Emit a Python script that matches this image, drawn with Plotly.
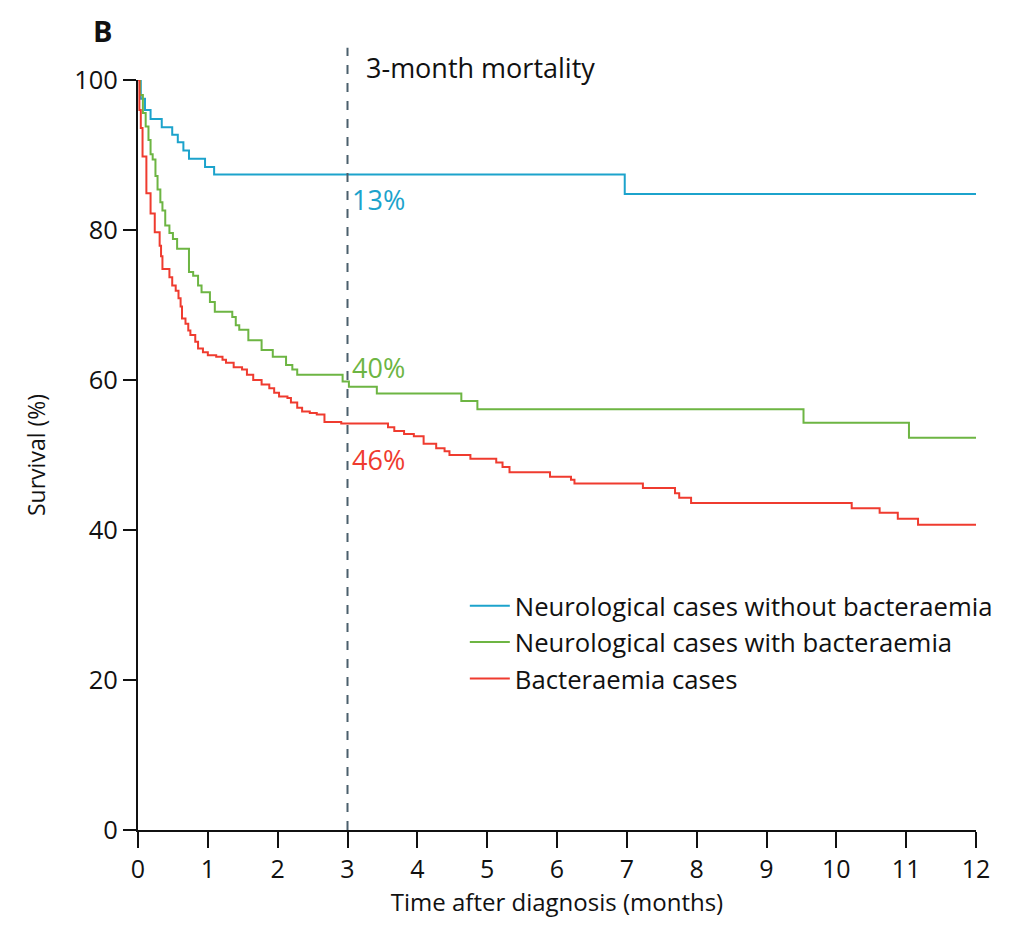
import plotly.graph_objects as go

# Kaplan-Meier survival data (time in months, survival in %)
blue_t = [0, 0.04, 0.10, 0.18, 0.34, 0.49, 0.57, 0.65, 0.73, 0.96, 1.09, 6.97, 12]
blue_s = [100, 97.5, 96.0, 94.8, 93.7, 92.7, 91.7, 90.6, 89.5, 88.4, 87.4, 84.8, 84.8]

green_t = [0, 0.03, 0.07, 0.11, 0.15, 0.18, 0.21, 0.25, 0.28, 0.32, 0.35, 0.39, 0.45, 0.50,
           0.56, 0.73, 0.79, 0.86, 0.91, 1.03, 1.10, 1.35, 1.40, 1.45, 1.58, 1.77, 1.93,
           2.12, 2.21, 2.28, 2.93, 3.02, 3.42, 4.63, 4.86, 9.53, 11.04, 12]
green_s = [100, 98.0, 95.6, 93.8, 92.0, 90.1, 89.4, 87.2, 85.4, 83.7, 82.6, 80.6, 79.6, 78.8,
           77.5, 74.4, 73.9, 72.6, 71.7, 70.4, 69.1, 68.4, 67.3, 66.7, 65.3, 64.0, 63.1,
           62.0, 61.4, 60.7, 59.8, 59.1, 58.2, 57.2, 56.1, 54.3, 52.3, 52.3]

red_t = [0, 0.02, 0.04, 0.065, 0.12, 0.18, 0.24, 0.31, 0.33, 0.35, 0.45, 0.49, 0.54, 0.58,
         0.61, 0.63, 0.68, 0.72, 0.75, 0.82, 0.86, 0.93, 1.00, 1.12, 1.21, 1.26, 1.37, 1.49,
         1.56, 1.65, 1.77, 1.88, 1.95, 2.02, 2.14, 2.19, 2.28, 2.35, 2.46, 2.56, 2.67, 2.91,
         3.58, 3.67, 3.81, 3.95, 4.09, 4.27, 4.39, 4.46, 4.76, 5.13, 5.22, 5.32, 5.90, 6.20,
         6.25, 7.23, 7.69, 7.75, 7.92, 10.22, 10.62, 10.88, 11.17, 12]
red_s = [100, 96.0, 93.6, 89.8, 84.9, 82.2, 79.7, 77.9, 76.5, 74.8, 73.7, 72.6, 71.9, 70.9,
         69.8, 68.2, 67.5, 66.6, 66.0, 65.1, 64.2, 63.7, 63.3, 63.1, 62.7, 62.3, 61.7, 61.4,
         60.7, 60.0, 59.4, 58.9, 58.3, 57.8, 57.6, 57.0, 56.3, 55.8, 55.6, 55.4, 54.4, 54.2,
         53.7, 53.2, 52.8, 52.5, 51.5, 50.9, 50.5, 50.0, 49.5, 49.0, 48.4, 47.7, 47.1, 46.7,
         46.2, 45.6, 44.9, 44.3, 43.6, 42.9, 42.3, 41.5, 40.7, 40.7]

series_names = ["Neurological cases without bacteraemia",
                "Neurological cases with bacteraemia",
                "Bacteraemia cases"]
mortality_labels = ["13%", "40%", "46%"]
mortality_y = [84.1, 61.7, 49.4]

x_ticks = list(range(0, 13))
y_ticks = [0, 20, 40, 60, 80, 100]

BLUE = "#1ca3cc"
GREEN = "#6db543"
RED = "#ef3b2f"
FONT = "Open Sans"

fig = go.Figure()
for t, s, name, col in [(blue_t, blue_s, series_names[0], BLUE),
                        (green_t, green_s, series_names[1], GREEN),
                        (red_t, red_s, series_names[2], RED)]:
    fig.add_trace(go.Scatter(x=t, y=s, mode="lines", name=name,
                             line=dict(color=col, width=2, shape="hv")))

# 3-month reference line
fig.add_shape(type="line", xref="x", yref="paper", x0=3, x1=3, y0=0, y1=1.043,
              line=dict(color="#4a5f6c", width=2, dash="dash"))

fig.add_annotation(x=3.24, y=1.016, xref="x", yref="paper", text="3-month mortality",
                   showarrow=False, xanchor="left", yanchor="middle",
                   font=dict(size=27, color="#111", family=FONT))

for lab, yv, col in zip(mortality_labels, mortality_y, [BLUE, GREEN, RED]):
    fig.add_annotation(x=3.04, y=yv, xref="x", yref="y", text=lab, showarrow=False,
                       xanchor="left", yanchor="middle",
                       font=dict(size=27, color=col, family=FONT))

fig.add_annotation(x=-0.029, y=1.066, xref="paper", yref="paper", text="<b>B</b>",
                   showarrow=False, xanchor="right", yanchor="middle",
                   font=dict(size=29, color="#111", family=FONT))

fig.update_layout(
    width=1002, height=910,
    margin=dict(l=130, r=16, t=72, b=83),
    plot_bgcolor="white", paper_bgcolor="white",
    font=dict(family=FONT, size=25, color="#111"),
    showlegend=True,
    legend=dict(x=0.39, y=0.33, xanchor="left", yanchor="top",
                bgcolor="rgba(0,0,0,0)", font=dict(size=25.7, family=FONT),
                tracegroupgap=0, itemwidth=40),
    xaxis=dict(range=[0, 12], tickvals=x_ticks, showgrid=False, zeroline=False,
               showline=True, linecolor="#111", linewidth=2,
               ticks="outside", ticklen=16, tickwidth=2, tickcolor="#111",
               title=dict(text="Time after diagnosis (months)", standoff=4,
                          font=dict(size=24)),
               tickfont=dict(size=25)),
    yaxis=dict(range=[0, 100], tickvals=y_ticks, showgrid=False, zeroline=False,
               showline=True, linecolor="#111", linewidth=2,
               ticks="outside", ticklen=13, tickwidth=2, tickcolor="#111",
               title=dict(text="Survival (%)", standoff=22, font=dict(size=23)),
               tickfont=dict(size=25.5)),
)

fig.write_html("out.html", config={"displayModeBar": False})
